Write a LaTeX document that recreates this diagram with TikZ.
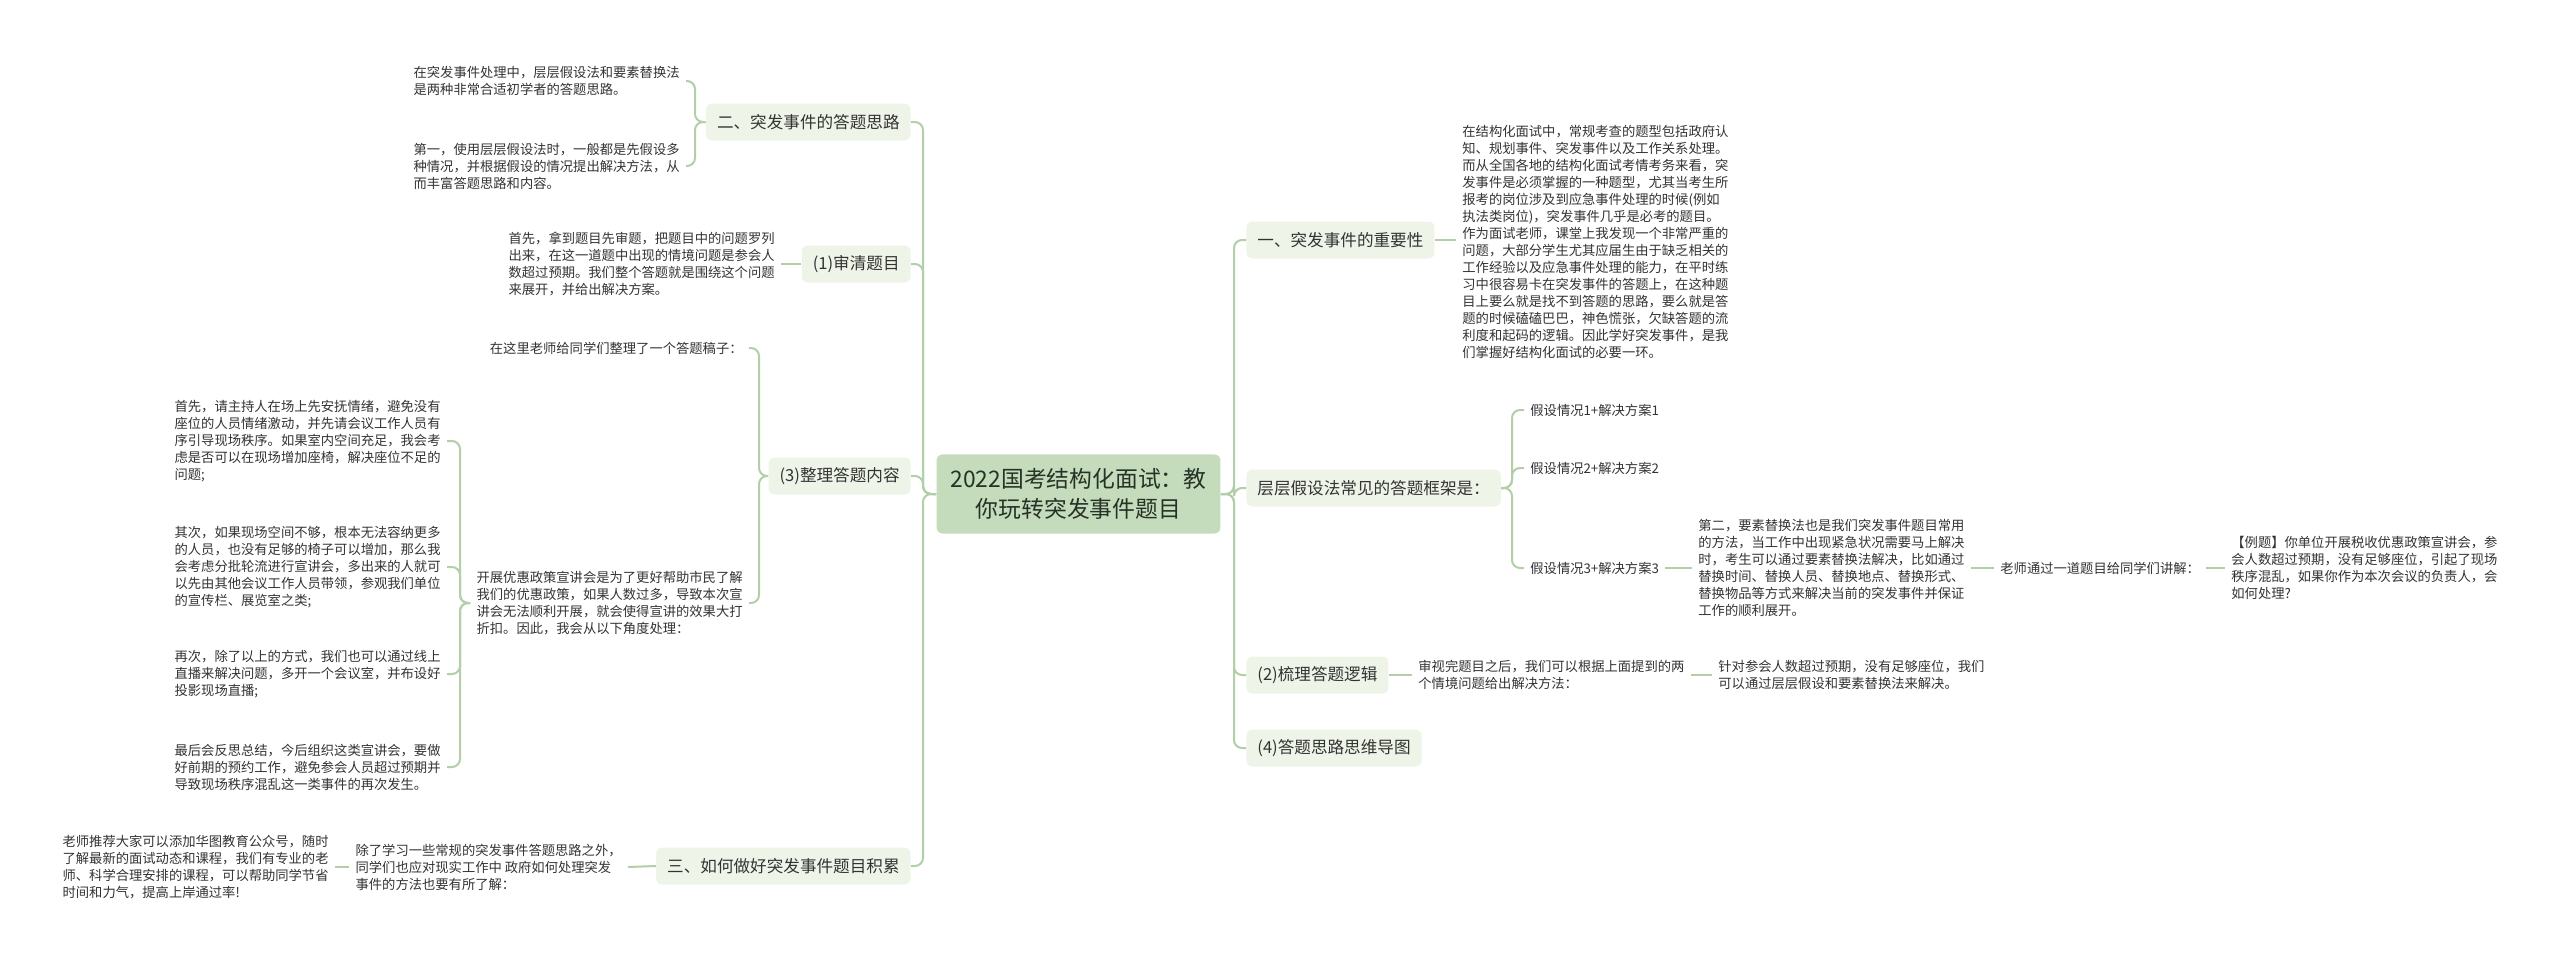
\documentclass[tikz,border=0pt]{standalone}
\usepackage{fontspec}
\setmainfont{Noto Sans CJK SC}
\definecolor{linkc}{HTML}{B2CFA8}
\definecolor{rootc}{HTML}{C4DCBC}
\definecolor{branchc}{HTML}{EEF5E8}
\definecolor{textc}{HTML}{333333}
\definecolor{roott}{HTML}{263226}

\begin{document}
\begin{tikzpicture}[
  x=0.5pt, y=-0.5pt,
  link/.style={draw=linkc, line width=1pt, rounded corners=4pt},
  root/.style={fill=rootc, rounded corners=3pt, text=roott, align=center,
    inner xsep=7pt, inner ysep=7pt, font=\fontsize{11.4pt}{15pt}\selectfont},
  branch/.style={fill=branchc, rounded corners=3pt, text=textc, minimum height=18.5pt,
    inner xsep=5.5pt, font=\fontsize{8.3pt}{10pt}\selectfont},
  leaf/.style={text=textc, align=left, inner xsep=3pt, inner ysep=0pt,
    font=\fontsize{6.65pt}{8.5pt}\selectfont}
]
  \useasboundingbox[fill=white] (0,0) rectangle (2560,964);

  \node[root] (root) at (1078.5,494) {2022国考结构化面试：教\\你玩转突发事件题目};

  % left side
  \node[branch,anchor=east] (b2) at (911,122) {二、突发事件的答题思路};
  \node[branch,anchor=east] (b1) at (911,264) {(1)审清题目};
  \node[branch,anchor=east] (b3) at (911,476) {(3)整理答题内容};
  \node[branch,anchor=east] (b4) at (911,866) {三、如何做好突发事件题目积累};

  \node[leaf,anchor=east] (l2a) at (686,81) {在突发事件处理中，层层假设法和要素替换法\\是两种非常合适初学者的答题思路。};
  \node[leaf,anchor=east] (l2b) at (686,166) {第一，使用层层假设法时，一般都是先假设多\\种情况，并根据假设的情况提出解决方法，从\\而丰富答题思路和内容。};
  \node[leaf,anchor=east] (l1) at (781,264) {首先，拿到题目先审题，把题目中的问题罗列\\出来，在这一道题中出现的情境问题是参会人\\数超过预期。我们整个答题就是围绕这个问题\\来展开，并给出解决方案。};
  \node[leaf,anchor=east] (l3a) at (749,348) {在这里老师给同学们整理了一个答题稿子：};
  \node[leaf,anchor=east] (l3b) at (749,603) {开展优惠政策宣讲会是为了更好帮助市民了解\\我们的优惠政策，如果人数过多，导致本次宣\\讲会无法顺利开展，就会使得宣讲的效果大打\\折扣。因此，我会从以下角度处理：};
  \node[leaf,anchor=east] (l3c1) at (447,441) {首先，请主持人在场上先安抚情绪，避免没有\\座位的人员情绪激动，并先请会议工作人员有\\序引导现场秩序。如果室内空间充足，我会考\\虑是否可以在现场增加座椅，解决座位不足的\\问题;};
  \node[leaf,anchor=east] (l3c2) at (447,567) {其次，如果现场空间不够，根本无法容纳更多\\的人员，也没有足够的椅子可以增加，那么我\\会考虑分批轮流进行宣讲会，多出来的人就可\\以先由其他会议工作人员带领，参观我们单位\\的宣传栏、展览室之类;};
  \node[leaf,anchor=east] (l3c3) at (447,674) {再次，除了以上的方式，我们也可以通过线上\\直播来解决问题，多开一个会议室，并布设好\\投影现场直播;};
  \node[leaf,anchor=east] (l3c4) at (447,767) {最后会反思总结，今后组织这类宣讲会，要做\\好前期的预约工作，避免参会人员超过预期并\\导致现场秩序混乱这一类事件的再次发生。};
  \node[leaf,anchor=east] (l4a) at (628,867) {除了学习一些常规的突发事件答题思路之外，\\同学们也应对现实工作中 政府如何处理突发\\事件的方法也要有所了解：};
  \node[leaf,anchor=east] (l4b) at (335,867) {老师推荐大家可以添加华图教育公众号，随时\\了解最新的面试动态和课程，我们有专业的老\\师、科学合理安排的课程，可以帮助同学节省\\时间和力气，提高上岸通过率!};

  % right side
  \node[branch,anchor=west] (r1) at (1246,240) {一、突发事件的重要性};
  \node[branch,anchor=west] (r2) at (1246,488) {层层假设法常见的答题框架是：};
  \node[branch,anchor=west] (r3) at (1246,675) {(2)梳理答题逻辑};
  \node[branch,anchor=west] (r4) at (1246,748) {(4)答题思路思维导图};

  \node[leaf,anchor=west] (rl1) at (1456,242) {在结构化面试中，常规考查的题型包括政府认\\知、规划事件、突发事件以及工作关系处理。\\而从全国各地的结构化面试考情考务来看，突\\发事件是必须掌握的一种题型，尤其当考生所\\报考的岗位涉及到应急事件处理的时候(例如\\执法类岗位)，突发事件几乎是必考的题目。\\作为面试老师，课堂上我发现一个非常严重的\\问题，大部分学生尤其应届生由于缺乏相关的\\工作经验以及应急事件处理的能力，在平时练\\习中很容易卡在突发事件的答题上，在这种题\\目上要么就是找不到答题的思路，要么就是答\\题的时候磕磕巴巴，神色慌张，欠缺答题的流\\利度和起码的逻辑。因此学好突发事件，是我\\们掌握好结构化面试的必要一环。};
  \node[leaf,anchor=west] (r2a) at (1524,410) {假设情况1+解决方案1};
  \node[leaf,anchor=west] (r2b) at (1524,468) {假设情况2+解决方案2};
  \node[leaf,anchor=west] (r2c) at (1524,568) {假设情况3+解决方案3};
  \node[leaf,anchor=west] (r2d) at (1692,568) {第二，要素替换法也是我们突发事件题目常用\\的方法，当工作中出现紧急状况需要马上解决\\时，考生可以通过要素替换法解决，比如通过\\替换时间、替换人员、替换地点、替换形式、\\替换物品等方式来解决当前的突发事件并保证\\工作的顺利展开。};
  \node[leaf,anchor=west] (r2e) at (1994,568) {老师通过一道题目给同学们讲解：};
  \node[leaf,anchor=west] (r2f) at (2225,568) {【例题】你单位开展税收优惠政策宣讲会，参\\会人数超过预期，没有足够座位，引起了现场\\秩序混乱，如果你作为本次会议的负责人，会\\如何处理?};
  \node[leaf,anchor=west] (r3a) at (1412,675) {审视完题目之后，我们可以根据上面提到的两\\个情境问题给出解决方法：};
  \node[leaf,anchor=west] (r3b) at (1712,675) {针对参会人数超过预期，没有足够座位，我们\\可以通过层层假设和要素替换法来解决。};

  % connectors
  \foreach \b in {b1,b2,b3,b4}
    \draw[link] (root.west) -- (923,494) |- (\b.east);
  \foreach \r in {r1,r2,r3,r4}
    \draw[link] (root.east) -- (1234,494) |- (\r.west);
  \foreach \l in {l2a,l2b}
    \draw[link] (b2.west) -- (695,122) |- (\l.east);
  \foreach \l in {l3a,l3b}
    \draw[link] (b3.west) -- (759,476) |- (\l.east);
  \foreach \l in {l3c1,l3c2,l3c3,l3c4}
    \draw[link] (l3b.west) -- (460,603) |- (\l.east);
  \foreach \l in {r2a,r2b,r2c}
    \draw[link] (r2.east) -- (1512,488) |- (\l.west);
  \draw[link] (b1.west) -- (l1.east);
  \draw[link] (b4.west) -- (l4a.east);
  \draw[link] (l4a.west) -- (l4b.east);
  \draw[link] (r1.east) -- (r1.east -| rl1.west);
  \draw[link] (r2c.east) -- (r2d.west);
  \draw[link] (r2d.east) -- (r2e.west);
  \draw[link] (r2e.east) -- (r2f.west);
  \draw[link] (r3.east) -- (r3a.west);
  \draw[link] (r3a.east) -- (r3b.west);
\end{tikzpicture}
\end{document}
